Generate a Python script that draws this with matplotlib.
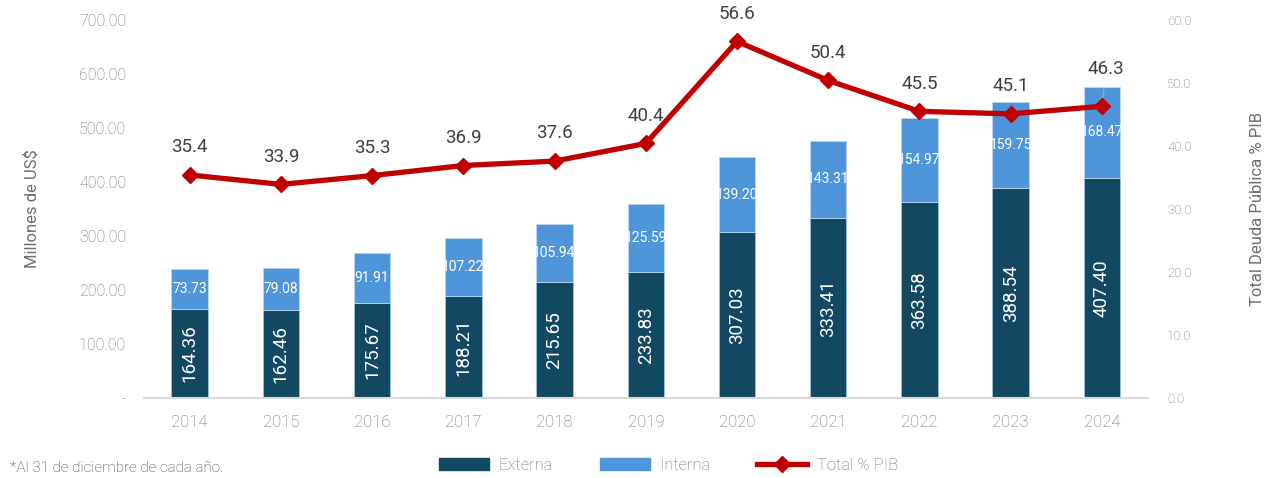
import numpy as np
import matplotlib.pyplot as plt
from matplotlib.lines import Line2D
from matplotlib.patches import Patch

plt.rcParams['font.family'] = ['Roboto', 'DejaVu Sans']
plt.rcParams['font.weight'] = 'light'

years = ['2014', '2015', '2016', '2017', '2018', '2019', '2020', '2021', '2022', '2023', '2024']
externa = [164.36, 162.46, 175.67, 188.21, 215.65, 233.83, 307.03, 333.41, 363.58, 388.54, 407.40]
interna = [73.73, 79.08, 91.91, 107.22, 105.94, 125.59, 139.20, 143.31, 154.97, 159.75, 168.47]
pib = [35.4, 33.9, 35.3, 36.9, 37.6, 40.4, 56.6, 50.4, 45.5, 45.1, 46.3]

c_ext = '#124862'
c_int = '#4F95D9'
c_red = '#C00000'
gray = '#6E6E6E'

fig = plt.figure(figsize=(12.75, 4.78), dpi=100)
ax = fig.add_axes([0.113, 0.1674, 0.787, 0.7908])
ax2 = ax.twinx()

x = np.arange(len(years))
w = 0.4
ax.bar(x, externa, w, color=c_ext, edgecolor='#9DC3E6', linewidth=0.6, zorder=2)
ax.bar(x, interna, w, bottom=externa, color=c_int, edgecolor='#BDD7EE', linewidth=0.6, zorder=2)

for i in range(len(x)):
    ax.text(x[i], externa[i] / 2, f'{externa[i]:.2f}', rotation=90, ha='center', va='center',
            color='white', fontsize=13.5, fontweight='normal')
    ax.text(x[i], externa[i] + interna[i] / 2, f'{interna[i]:.2f}', ha='center', va='center',
            color='white', fontsize=10, fontweight='normal')

ax.set_xlim(-0.5, len(years) - 0.5)
ax.set_ylim(0, 700)
ax.set_yticks(np.arange(0, 701, 100))
ax.set_yticklabels(['-'] + [f'{v:.2f}' for v in np.arange(100, 701, 100)])
ax.set_xticks(x)
ax.set_xticklabels(years)
ax.tick_params(axis='y', length=0, labelsize=11.5, labelcolor=gray, pad=13)
ax.tick_params(axis='x', length=0, labelsize=12, labelcolor=gray, pad=12)
ax.set_ylabel('Millones de US$', fontsize=12, color=gray, labelpad=28)
for s in ['top', 'right', 'left']:
    ax.spines[s].set_visible(False)
ax.spines['bottom'].set_color('#D9D9D9')
ax.spines['bottom'].set_linewidth(1.5)

ax2.plot(x, pib, color=c_red, linewidth=3.8, marker='D', markersize=8, zorder=5)
ax2.set_ylim(0, 60)
ax2.set_yticks(np.arange(0, 61, 10))
ax2.set_yticklabels([f'{v:.1f}' for v in np.arange(0, 61, 10)])
ax2.tick_params(axis='y', length=0, labelsize=9.5, labelcolor=gray, pad=14)
ax2.set_ylabel('Total Deuda Pública % PIB', fontsize=12, color=gray, labelpad=42)
for s in ax2.spines.values():
    s.set_visible(False)

for i in range(len(x)):
    if i == len(x) - 1:
        ax2.annotate(f'{pib[i]:.1f}', xy=(x[i], pib[i]), xytext=(3, 27), textcoords='offset points',
                     ha='center', va='center', fontsize=13.5, color='#404040', fontweight='normal',
                     arrowprops=dict(arrowstyle='-', color='#A6A6A6', lw=1, shrinkA=6, shrinkB=4))
    else:
        ax2.annotate(f'{pib[i]:.1f}', xy=(x[i], pib[i]), xytext=(0, 20), textcoords='offset points',
                     ha='center', va='center', fontsize=13.5, color='#404040', fontweight='normal')

handles = [Patch(color=c_ext), Patch(color=c_int),
           Line2D([0], [0], color=c_red, lw=3.8, marker='D', markersize=8)]
fig.legend(handles, ['Externa', 'Interna', 'Total % PIB'], loc='center', ncol=3,
           bbox_to_anchor=(0.524, 0.027), frameon=False, fontsize=12, labelcolor=gray,
           handlelength=3.0, handleheight=0.7, columnspacing=2.8, handletextpad=0.6)

fig.text(0.008, 0.02, '*Al 31 de diciembre de cada año.', fontsize=11, color='#404040', va='center')

fig.savefig('out.png', dpi=100)
